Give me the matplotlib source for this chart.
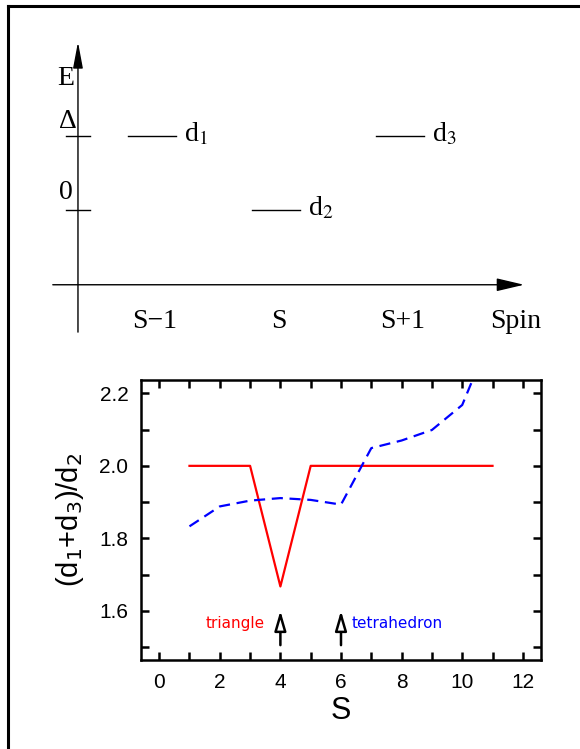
import matplotlib
matplotlib.use("Agg")
import matplotlib.pyplot as plt
from matplotlib.lines import Line2D
from matplotlib.ticker import MultipleLocator, FuncFormatter

# level scheme (top panel)
spin_pos = [1, 2, 3]
spin_labels = ["S\u22121", "S", "S+1"]
level_energy = [1, 0, 1]          # d1 and d3 at Delta, d2 at 0
level_names = ["d$_\\mathrm{1}$", "d$_\\mathrm{2}$", "d$_\\mathrm{3}$"]

# ratio vs S (bottom panel)
tri_S = [1, 3, 4, 5, 11]
tri_ratio = [2.0, 2.0, 1.667, 2.0, 2.0]
tet_S = [1, 2, 3, 4, 5, 6, 7, 8, 9, 10, 11]
tet_ratio = [1.833, 1.888, 1.904, 1.911, 1.906, 1.893, 2.049, 2.070, 2.099, 2.168, 2.37]
arrow_S = [4, 6]

W, H = 580, 749
fig = plt.figure(figsize=(W / 100, H / 100), dpi=100)

def box(l, t, r, b):
    return [l / W, 1 - b / H, (r - l) / W, (b - t) / H]

# frame around the figure (left and top edges visible)
fig.add_artist(Line2D([8 / W, 8 / W], [0, 1 - 6 / H], color="black", lw=2.2, transform=fig.transFigure))
fig.add_artist(Line2D([8 / W, 1], [1 - 6 / H, 1 - 6 / H], color="black", lw=2.2, transform=fig.transFigure))

# ---- top: energy level diagram ----
serif = "Liberation Serif"
fs = 20
ax1 = fig.add_axes(box(40, 30, 560, 345))
ax1.set_xlim(0.0968, 4.290)
ax1.set_ylim(-1.824, 2.432)
ax1.axis("off")

x_axis0 = 0.403
ax1.annotate("", xy=(x_axis0, 2.27), xytext=(x_axis0, -1.65),
             arrowprops=dict(arrowstyle="-|>,head_length=1.6,head_width=0.3", color="black", lw=1.0,
                             shrinkA=0, shrinkB=0))
ax1.annotate("", xy=(4.0, -1.01), xytext=(0.2, -1.01),
             arrowprops=dict(arrowstyle="-|>,head_length=1.7,head_width=0.4", color="black", lw=1.0,
                             shrinkA=0, shrinkB=0))
for e in [0, 1]:
    ax1.plot([x_axis0 - 0.1, x_axis0 + 0.1], [e, e], color="black", lw=1.0)
ax1.text(x_axis0 - 0.03, 1.78, "E", fontsize=fs, family=serif, ha="right", va="center")
ax1.text(x_axis0 - 0.01, 1.2, "\u0394", fontsize=fs, family=serif, ha="right", va="center")
ax1.text(x_axis0 - 0.04, 0.24, "0", fontsize=fs, family=serif, ha="right", va="center")

for x, e, name in zip(spin_pos, level_energy, level_names):
    ax1.plot([x - 0.194, x + 0.194], [e, e], color="black", lw=1.0)
    ax1.text(x + 0.26, e + 0.02, name, fontsize=fs, family=serif, math_fontfamily="stix",
             ha="left", va="center")
for x, lab in zip(spin_pos, spin_labels):
    ax1.text(x + 0.02, -1.5, lab, fontsize=fs, family=serif, ha="center", va="center")
ax1.text(3.93, -1.5, "Spin", fontsize=fs, family=serif, ha="center", va="center")

# ---- bottom: ratio plot ----
sans = "Liberation Sans"
ax2 = fig.add_axes(box(141, 380, 541, 660))
ax2.plot(tri_S, tri_ratio, color="red", lw=1.6)
ax2.plot(tet_S, tet_ratio, color="blue", lw=1.6, ls=(0, (5, 3)))
ax2.set_xlim(-0.6, 12.6)
ax2.set_ylim(1.464, 2.237)

for s in arrow_S:
    ax2.annotate("", xy=(s, 1.6), xytext=(s, 1.505),
                 arrowprops=dict(arrowstyle="-|>,head_length=1.2,head_width=0.35", fc="white", ec="black",
                                 lw=1.8, shrinkA=0, shrinkB=0))
ax2.text(3.5, 1.566, "triangle", color="red", fontsize=11, ha="right", va="center")
ax2.text(6.35, 1.566, "tetrahedron", color="blue", fontsize=11, ha="left", va="center")

ax2.xaxis.set_major_locator(MultipleLocator(2))
ax2.xaxis.set_minor_locator(MultipleLocator(1))
ax2.yaxis.set_major_locator(MultipleLocator(0.2))
ax2.yaxis.set_minor_locator(MultipleLocator(0.1))
ax2.xaxis.set_major_formatter(FuncFormatter(lambda v, p: f"{v:.0f}"))
ax2.yaxis.set_major_formatter(FuncFormatter(lambda v, p: f"{v:.1f}"))
ax2.tick_params(which="both", direction="in", length=6, width=1.8, top=True, right=True)
ax2.tick_params(which="major", labelsize=15)
ax2.tick_params(axis="x", which="major", pad=9)
ax2.tick_params(axis="y", which="major", pad=9)
for lab in ax2.get_xticklabels() + ax2.get_yticklabels():
    lab.set_family(sans)
for sp in ax2.spines.values():
    sp.set_linewidth(1.8)

ax2.set_xlabel("S", fontsize=22, family=sans, labelpad=3)
ax2.set_ylabel("(d$_1$+d$_3$)/d$_2$", fontsize=21, family=sans, labelpad=10)

fig.savefig("out.png", dpi=100)
